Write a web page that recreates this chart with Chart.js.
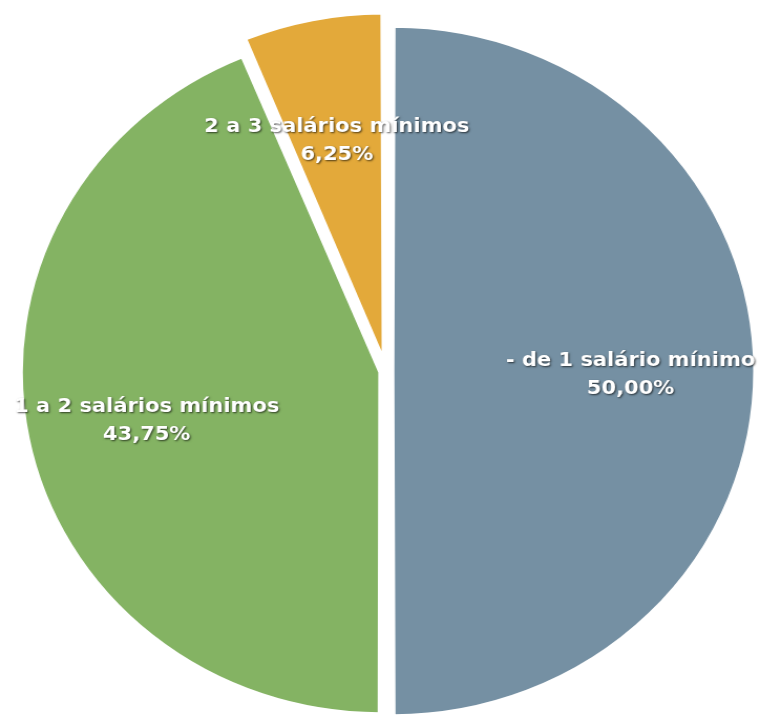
<!DOCTYPE html>
<html>
<head>
<meta charset="utf-8">
<script src="https://cdn.jsdelivr.net/npm/chart.js@4"></script>
<style>
  html, body { margin: 0; padding: 0; background: #fff; overflow: hidden; }
  #wrap {
    width: 724px;
    height: 715px;
    transform: scaleX(1.0497);
    transform-origin: 0 0;
  }
</style>
</head>
<body>
<div id="wrap"><canvas id="myChart"></canvas></div>
<script>
const labels = [
  "- de 1 salário mínimo",
  "1 a 2 salários mínimos",
  "2 a 3 salários mínimos",
];
const percentages = [50.0, 43.75, 6.25];
const sliceColors = ["#7590a3", "#84b363", "#e3a93a"];
const sliceOffsets = [27, 23, 50];

const formatPct = (v) => v.toFixed(2).replace(".", ",") + "%";

// labels drawn inside each slice, two lines, white with a dark shadow
const sliceLabels = {
  id: "sliceLabels",
  afterDatasetsDraw(chart) {
    const ctx = chart.ctx;
    const meta = chart.getDatasetMeta(0);
    ctx.save();
    ctx.font = "bold 20px 'DejaVu Sans'";
    ctx.textAlign = "center";
    ctx.textBaseline = "middle";
    ctx.fillStyle = "#ffffff";
    ctx.shadowColor = "rgba(0,0,0,0.65)";
    ctx.shadowBlur = 2;
    ctx.shadowOffsetX = 1;
    ctx.shadowOffsetY = 1;
    meta.data.forEach((arc, i) => {
      const { x, y, startAngle, endAngle, outerRadius } = arc.getProps(
        ["x", "y", "startAngle", "endAngle", "outerRadius"],
        true
      );
      const mid = (startAngle + endAngle) / 2;
      const shift = sliceOffsets[i] / 4;
      const r = outerRadius * 0.67 + shift;
      const cx = x + Math.cos(mid) * r;
      const cy = y + Math.sin(mid) * r + 4;
      ctx.fillText(labels[i], cx, cy - 14);
      ctx.fillText(formatPct(percentages[i]), cx, cy + 14);
    });
    ctx.restore();
  },
};

const ctx = document.querySelector("#myChart");
const myChart = new Chart(ctx, {
  type: "pie",
  data: {
    labels: labels,
    datasets: [
      {
        data: percentages,
        backgroundColor: sliceColors,
        borderColor: "#ffffff",
        borderWidth: 3,
        offset: sliceOffsets,
        hoverOffset: 0,
      },
    ],
  },
  options: {
    responsive: true,
    maintainAspectRatio: false,
    animation: false,
    radius: 338,
    layout: { padding: { left: 11, right: 0, top: 27, bottom: 0 } },
    plugins: {
      legend: { display: false },
      tooltip: { enabled: false },
    },
  },
  plugins: [sliceLabels],
});
</script>
</body>
</html>
